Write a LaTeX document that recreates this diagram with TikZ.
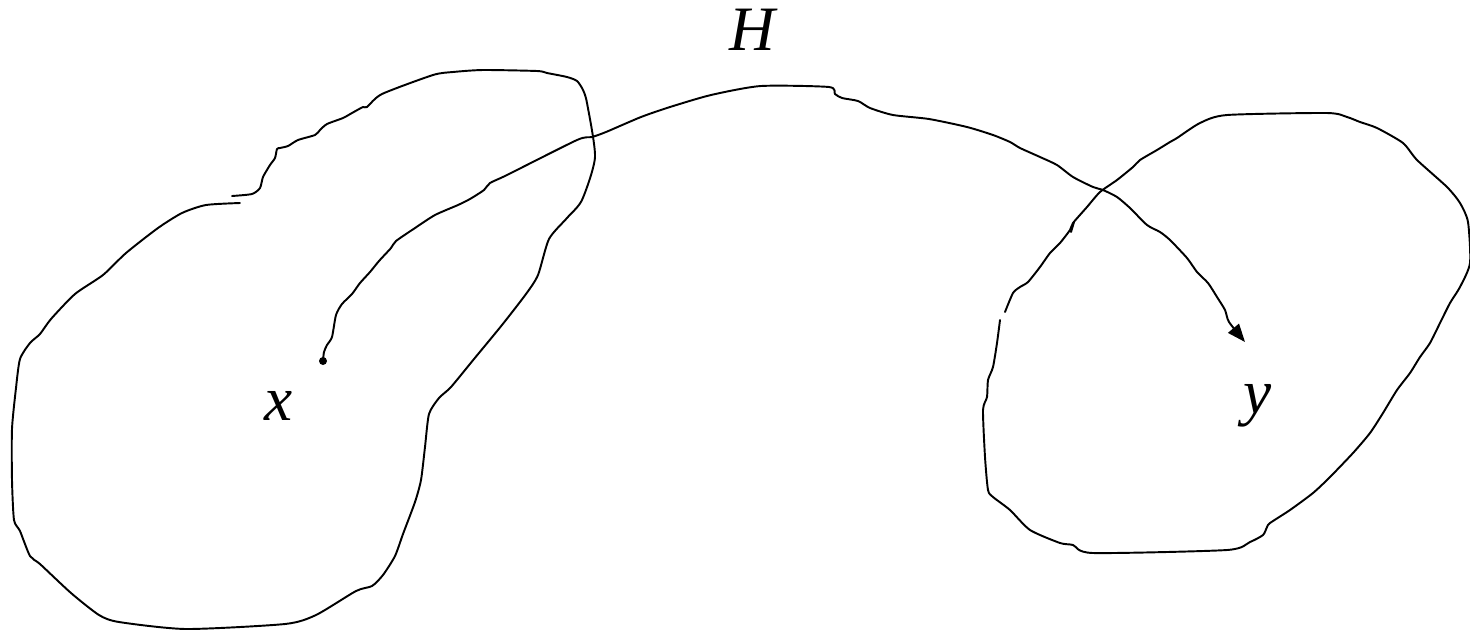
\documentclass[tikz,border=0pt]{standalone}
\usepackage{fontspec}
\setmainfont{Liberation Serif}
\usetikzlibrary{arrows.meta}
\tikzset{
  blob/.style={line width=1.1pt, line join=round, line cap=round},
  hpath/.style={line width=1.1pt, line join=round, -{Triangle[length=0.36cm, width=0.28cm]}},
  lbl/.style={font=\fontsize{36}{40}\selectfont\itshape, inner sep=0pt, anchor=base},
  dotnode/.style={circle, fill, inner sep=0pt, minimum size=0.16cm}
}
\begin{document}
\begin{tikzpicture}[x=0.02cm, y=-0.02cm]
  \useasboundingbox (0,0) rectangle (1470,633);
  % left set
  \draw[blob] plot[smooth, tension=0.4] coordinates {(240,203) (206,205) (182,213) (158,228) (126,253) (103,275) (75,294) (51,319) (40,334) (30,343) (20,359) (16,388) (12,429) (12,480) (14,520) (20,531) (30,556) (40,564) (71,593) (99,615) (119,622) (186,629) (285,624) (316,615) (356,591) (372,586) (383,575) (395,556) (403,534) (415,502) (421,480) (425,447) (429,414) (439,398) (451,387) (474,359) (502,325) (526,294) (538,275) (549,239) (567,218) (582,200) (595,157) (587,103) (583,90) (577,81) (567,77) (547,73) (537,71) (483,70) (453,72) (433,75) (382,94) (367,107) (363,107) (352,113) (343,118) (327,124) (320,130) (315,135) (298,140) (288,146) (280,148) (277,149) (275,158) (270,165) (263,177) (260,188) (252,194) (232,196)};
  % right set
  \draw[blob] plot[smooth, tension=0.4] coordinates {(1005,312) (1013,293) (1020,287) (1028,282) (1040,267) (1050,253) (1060,243) (1070,230) (1073,223) (1087,207) (1100,192) (1117,180) (1133,167) (1140,160) (1157,150) (1170,142) (1177,138) (1200,123) (1227,115) (1327,113) (1347,117) (1360,122) (1377,128) (1403,143) (1417,160) (1447,187) (1460,203) (1468,222) (1470,263) (1460,287) (1450,303) (1440,323) (1430,343) (1420,357) (1410,373) (1397,390) (1383,413) (1370,433) (1353,453) (1330,477) (1313,493) (1290,510) (1270,523) (1267,527) (1263,535) (1250,542) (1227,550) (1093,553) (1073,545) (1060,543) (1030,530) (1010,510) (993,497) (988,490) (985,457) (983,410) (987,397) (988,380) (993,367) (997,343) (1000,320)};
  \draw[blob] (1071,232) -- (1074,222);
  % points and path
  \node[dotnode] (xpt) at (323,361) {};
  \coordinate (ypt) at (1245,342);
  \draw[hpath] plot[smooth, tension=0.4] coordinates {(xpt.center) (324,352) (327,345) (332,337) (336,315) (342,304) (352,294) (360,283) (370,272) (379,261) (391,248) (396,241) (415,228) (435,215) (458,205) (470,199) (484,190) (490,183) (507,175) (577,140) (592,137) (606,132) (641,117) (670,107) (711,95) (761,86) (829,87) (835,94) (842,98) (858,101) (870,108) (893,115) (929,119) (967,127) (993,135) (1010,142) (1020,148) (1040,157) (1057,165) (1073,177) (1093,187) (1103,190) (1117,197) (1130,208) (1147,225) (1160,232) (1170,240) (1187,258) (1197,272) (1208,283) (1217,297) (1225,310) (1229,322) (ypt)};
  \node[lbl] (xlbl) at (279,420) {x};
  \node[lbl] (ylbl) at (1258,413) {y};
  \node[lbl] (hlbl) at (752,50) {H};
\end{tikzpicture}
\end{document}
